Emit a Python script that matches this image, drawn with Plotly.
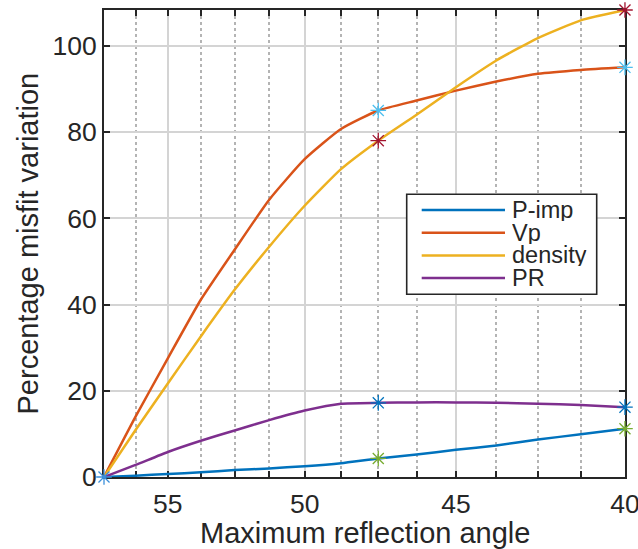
import math
import plotly.graph_objects as go

# Maximum reflection angle (degrees) and misfit variation (%) per parameter
angles = [57.5, 56.25, 55.0, 53.75, 52.5, 51.25, 50.0, 48.75, 47.5,
          46.25, 45.0, 43.75, 42.5, 41.25, 40.0]
p_imp = [0.0, 0.3, 0.7, 1.1, 1.6, 2.0, 2.5, 3.2, 4.3, 5.2, 6.3, 7.3, 8.7, 9.9, 11.2]
vp = [0.0, 14.0, 27.5, 41.1, 52.7, 64.3, 73.7, 80.7, 85.0, 87.3, 89.6, 91.7, 93.5, 94.4, 95.0]
density = [0.0, 10.9, 21.7, 32.6, 43.4, 53.4, 62.9, 71.4, 78.0, 84.0, 90.4, 96.6, 101.8, 105.9, 108.3]
pr = [0.0, 2.8, 5.8, 8.4, 10.8, 13.2, 15.4, 17.0, 17.2, 17.3, 17.3, 17.2, 17.0, 16.7, 16.2]

series_names = ["P-imp", "Vp", "density", "PR"]
series_values = [p_imp, vp, density, pr]
line_colors = ["#0072BD", "#D95319", "#EDB120", "#7E2F8E"]
star_colors = ["#77AC30", "#4DBEEE", "#A2142F", "#0072BD"]

major_ticks = [55, 50, 45, 40]
major_labels = ["55", "50", "45", "40"]
minor_ticks = [56.25, 53.75, 52.5, 51.25, 48.75, 47.5, 46.25, 43.75, 42.5, 41.25]
y_ticks = [0, 20, 40, 60, 80, 100]
star_angles = [47.5, 40.0]

FONT = "Liberation Sans, Arial, Helvetica, sans-serif"
INK = "#262626"

fig = go.Figure()

for name, vals, col in zip(series_names, series_values, line_colors):
    fig.add_trace(go.Scatter(x=angles, y=vals, mode="lines", name=name,
                             line=dict(color=col, width=2.5, shape="spline", smoothing=0.5),
                             cliponaxis=False, showlegend=False))


def star(color):
    return dict(symbol="asterisk-open", size=13, color=color,
                line=dict(color=color, width=1.3))


# starred checkpoints on each curve
for vals, scol in zip(series_values, star_colors):
    idx = [angles.index(a) for a in star_angles]
    fig.add_trace(go.Scatter(x=[angles[i] for i in idx], y=[vals[i] for i in idx],
                             mode="markers", marker=star(scol),
                             cliponaxis=False, showlegend=False))

# common starting point
fig.add_trace(go.Scatter(x=[angles[0]], y=[p_imp[0]], mode="markers",
                         marker=star("#3A8FDA"), cliponaxis=False, showlegend=False))

# plot-area geometry in pixels (for the hand-built legend and titles)
W, H = 638, 549
L, R, T, B = 104, 625, 10, 477


def px(x):
    return (x - L) / (R - L)


def py(y):
    return (B - y) / (B - T)


shapes = [dict(type="rect", xref="paper", yref="paper",
               x0=px(406.7), x1=px(596.7), y0=py(294.3), y1=py(194.3),
               line=dict(color=INK, width=1.6), fillcolor="white", layer="above")]
annotations = []
row_y = [210.0, 232.7, 255.4, 278.1]
for name, col, yy in zip(series_names, line_colors, row_y):
    shapes.append(dict(type="line", xref="paper", yref="paper",
                       x0=px(421.7), x1=px(505), y0=py(yy), y1=py(yy),
                       line=dict(color=col, width=2.5), layer="above"))
    annotations.append(dict(xref="paper", yref="paper", x=px(510.5), y=py(yy),
                            text=name, showarrow=False, xanchor="left", yanchor="middle",
                            height=22, valign="middle", borderpad=0,
                            font=dict(family=FONT, size=23.5, color=INK)))

annotations.append(dict(xref="paper", yref="paper", x=px(364.5), y=py(533),
                        text="Maximum reflection angle", showarrow=False,
                        xanchor="center", yanchor="middle",
                        font=dict(family=FONT, size=29, color=INK)))
annotations.append(dict(xref="paper", yref="paper", x=px(27), y=py(243.5),
                        text="Percentage misfit variation", showarrow=False,
                        textangle=-90, xanchor="center", yanchor="middle",
                        font=dict(family=FONT, size=29, color=INK)))

fig.update_layout(
    width=W, height=H,
    margin=dict(l=L, r=W - R, t=T, b=H - B, pad=0, autoexpand=False),
    paper_bgcolor="white", plot_bgcolor="white",
    font=dict(family=FONT, color=INK),
    shapes=shapes, annotations=annotations,
)

fig.update_xaxes(
    type="log", automargin=False,
    range=[math.log10(angles[0]), math.log10(angles[-1]) - 1e-5],
    tickmode="array", tickvals=major_ticks, ticktext=major_labels,
    ticks="inside", ticklen=6, tickwidth=2, tickcolor=INK,
    tickfont=dict(family=FONT, size=26.5, color=INK),
    ticklabeloverflow="allow", ticklabelstandoff=2,
    showgrid=True, gridcolor="#D4D4D4", gridwidth=2,
    showline=True, linecolor=INK, linewidth=2, mirror="ticks",
    zeroline=False, layer="below traces",
    minor=dict(tickmode="array", tickvals=minor_ticks, ticks="inside",
               ticklen=6, tickwidth=2, tickcolor=INK,
               showgrid=True, gridcolor="#B4B4B4", gridwidth=1.5, griddash="dot"),
)

fig.update_yaxes(
    automargin=False,
    range=[0, max(density)],
    tickmode="array", tickvals=y_ticks,
    ticks="inside", ticklen=6, tickwidth=2, tickcolor=INK,
    tickfont=dict(family=FONT, size=26.5, color=INK),
    ticklabelstandoff=0, ticklabeloverflow="allow",
    showgrid=True, gridcolor="#D4D4D4", gridwidth=2,
    showline=True, linecolor=INK, linewidth=2, mirror="ticks",
    zeroline=False, layer="below traces",
)

fig.write_html("out.html")
